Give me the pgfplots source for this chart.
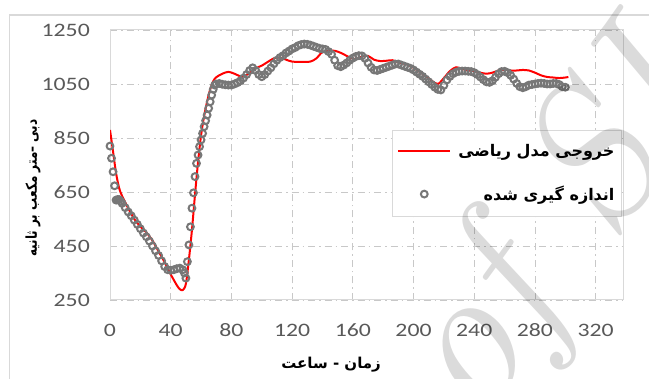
\documentclass[border=0pt]{standalone}
\usepackage{pgfplots}
\pgfplotsset{compat=1.18}
\usepackage{fontspec}
\TeXXeTstate=1
\newfontfamily\tickfont[FakeStretch=1.25]{Carlito}
\newfontfamily\fa[Script=Arabic]{DejaVu Sans}
\newfontfamily\fanarrow[Script=Arabic, FakeStretch=0.8]{DejaVu Sans}
\definecolor{ticktext}{HTML}{595959}
\definecolor{framegray}{HTML}{D9D9D9}
\definecolor{gridgray}{HTML}{C8C8C8}
\definecolor{markedge}{HTML}{777777}

% measured discharge (hours, m^3/s)
\pgfplotstableread{
t q
0 820
1 775
2 725
3 673
4 620
5 622
6 622
7 616
8 608
10 592
12 576
14 562
16 546
18 530
20 514
22 498
24 484
26 468
28 450
30 432
32 415
34 395
36 374
38 362
40 360
42 362
44 366
46 368
48 362
49 350
50 331
51 392
52 454
53 521
54 590
55 647
56 707
57 756
58 787
59 818
60 843
61 867
62 892
63 914
64 935
65 960
66 984
67 1009
68 1030
69 1046
70 1050
72 1052
74 1049
76 1047
78 1046
80 1046
82 1050
84 1055
86 1062
88 1072
90 1085
92 1100
94 1110
96 1100
98 1085
100 1077
102 1085
104 1098
106 1110
108 1125
110 1138
112 1148
114 1155
116 1165
118 1172
120 1180
122 1185
124 1192
126 1196
128 1198
130 1197
132 1194
134 1190
136 1186
138 1182
140 1180
142 1178
144 1170
146 1160
148 1138
150 1118
152 1114
154 1120
156 1128
158 1138
160 1146
162 1152
164 1155
166 1154
168 1145
170 1128
172 1112
174 1102
176 1100
178 1104
180 1108
182 1112
184 1116
186 1120
188 1124
190 1124
192 1120
194 1116
196 1112
198 1108
200 1102
202 1094
204 1086
206 1078
208 1068
210 1058
212 1048
214 1038
216 1030
218 1028
220 1045
222 1065
224 1078
226 1088
228 1094
230 1097
232 1098
234 1098
236 1097
238 1096
240 1092
242 1085
244 1076
246 1066
248 1058
250 1056
252 1062
254 1075
256 1088
258 1096
260 1097
262 1092
264 1082
266 1068
268 1052
270 1040
272 1036
274 1040
276 1046
278 1048
280 1050
282 1052
284 1053
286 1052
288 1050
290 1050
292 1052
294 1052
296 1048
298 1040
300 1038
}\measured

% model output
\pgfplotstableread{
t q
0 880
2 800
4 720
6 665
8 635
12 590
16 550
20 522
24 500
28 470
32 430
36 390
40 345
44 305
46 290
48 287
50 310
52 400
54 510
56 640
58 760
60 860
62 930
64 985
66 1030
68 1060
70 1075
74 1088
78 1095
82 1088
86 1078
88 1078
92 1090
96 1108
100 1118
104 1132
108 1145
112 1148
116 1140
120 1133
126 1132
132 1133
136 1145
140 1168
146 1174
150 1170
154 1160
158 1148
162 1142
166 1152
170 1154
174 1140
178 1135
182 1136
186 1138
190 1130
196 1122
200 1110
204 1095
208 1080
212 1062
216 1050
220 1072
224 1098
228 1112
232 1106
236 1100
240 1098
244 1092
248 1088
252 1092
256 1100
260 1103
264 1100
268 1100
272 1102
276 1100
280 1092
284 1082
288 1076
292 1074
296 1072
300 1074
302 1076
}\model

\begin{document}
\begin{tikzpicture}
\path[use as bounding box] (0pt,0pt) rectangle (649pt,379pt);
\fill[white] (0pt,0pt) rectangle (649pt,379pt);
\draw[framegray, line width=1.5pt] (9.5pt,0pt) -- (9.5pt,364pt) -- (649pt,364pt);
\begin{axis}[
  at={(110pt,79pt)}, anchor=south west,
  scale only axis, width=513pt, height=270pt,
  xmin=0, xmax=338, ymin=250, ymax=1250,
  xtick={0,40,...,320}, ytick={250,450,...,1250},
  /pgf/number format/assume math mode=true,
  /pgf/number format/1000 sep={},
  major tick length=0pt,
  axis line style={draw=framegray, line width=1pt},
  grid=major,
  major grid style={draw=gridgray, line width=0.9pt, dash pattern=on 7pt off 4pt on 1.5pt off 4pt},
  xticklabel style={font=\tickfont\fontsize{19}{19}\selectfont, text=ticktext, anchor=center, inner sep=0pt, yshift=-30pt},
  yticklabel style={font=\tickfont\fontsize{19}{19}\selectfont, text=ticktext, anchor=east, inner sep=0pt, xshift=-20pt},
  xlabel={\fa\bfseries\beginR زمان - ساعت\endR},
  xlabel style={at={(rel axis cs:0.431,-0.241)}, anchor=center, font=\fontsize{15}{15}\selectfont},
  ylabel={\fanarrow\bfseries\beginR دبی –متر مکعب بر ثانیه\endR},
  ylabel style={at={(rel axis cs:-0.150,0.415)}, anchor=center, font=\fontsize{15}{15}\selectfont},
  legend style={at={(rel axis cs:0.998,0.63)}, anchor=north east, draw=framegray, line width=1pt,
    fill=white, font=\fa\bfseries\fontsize{16}{18}\selectfont, row sep=24pt, inner xsep=5pt, inner ysep=12pt,
    column sep=5pt},
  legend cell align=right,
  legend image code/.code={\draw[mark repeat=2, mark phase=2] plot coordinates {(8pt,0pt) (34pt,0pt) (60pt,0pt)};},
]
\addplot[red, line width=2pt, smooth, tension=0.5] table[x=t, y=q] {\model};
\addlegendentry{\beginR خروجی مدل ریاضی\endR}
\addplot[only marks, mark=o, mark size=3.4pt, mark options={draw=markedge, line width=2pt}, line width=2pt, draw=markedge]
  table[x=t, y=q] {\measured};
\addlegendentry{\beginR اندازه گیری شده\endR}
\end{axis}
\node[rotate=54, anchor=base west, text=black, opacity=0.14, inner sep=0pt,
  font=\itshape\fontsize{195}{195}\selectfont] at (478pt,-48pt) {of SID};
\end{tikzpicture}
\end{document}
